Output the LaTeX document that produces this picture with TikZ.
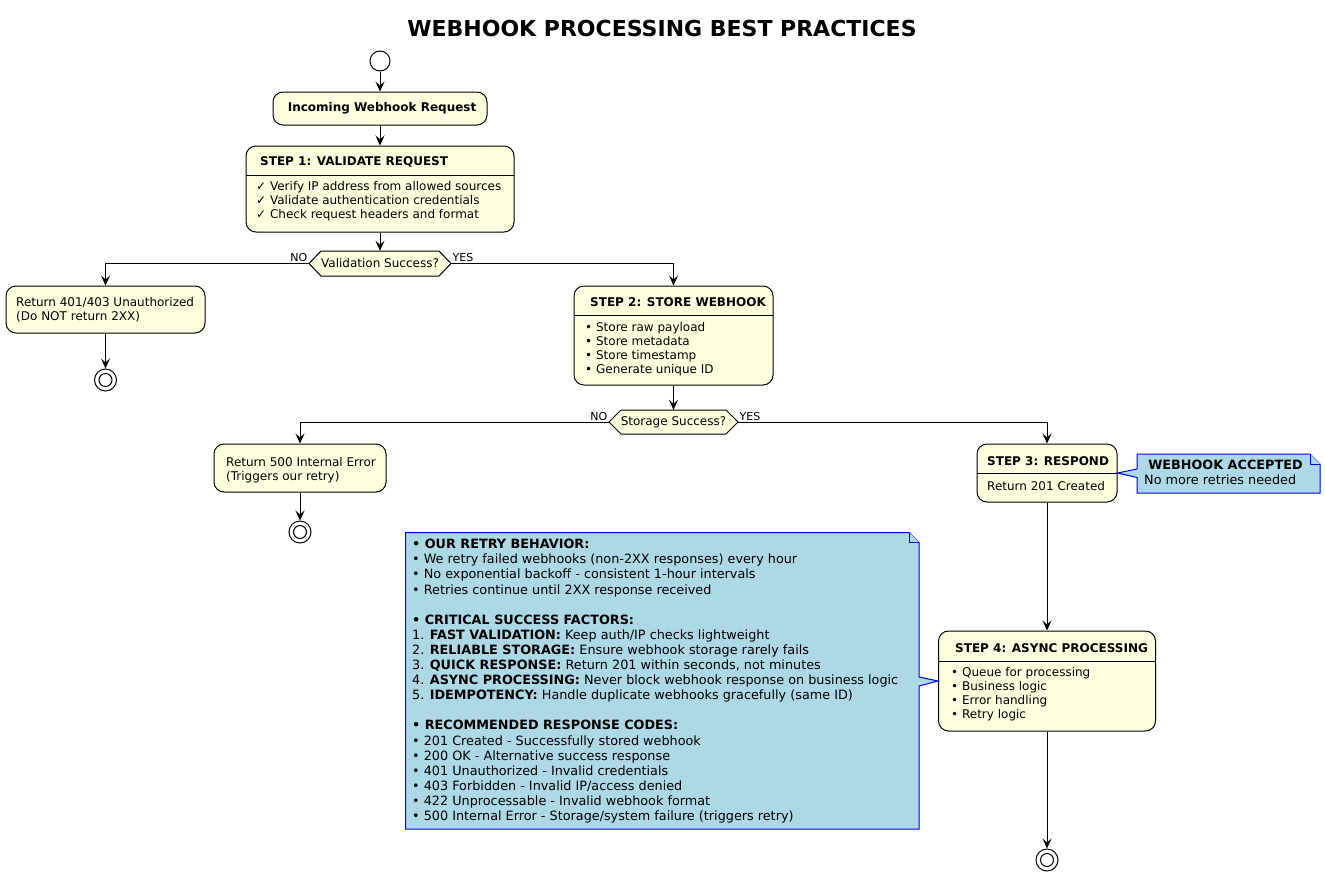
\documentclass[tikz,border=0pt]{standalone}
\usepackage{fontspec}
\setmainfont{DejaVu Sans}
\usetikzlibrary{arrows.meta}
\definecolor{actfill}{RGB}{255,255,224}
\definecolor{notefill}{RGB}{173,216,230}
\newcommand{\actsize}{\fontsize{12}{14}\selectfont}
\newcommand{\notesize}{\fontsize{12.8}{15.1}\selectfont}
\tikzset{
    actbox/.style={draw, fill=actfill, rounded corners=10pt, line width=1pt, inner sep=0pt},
    hexbox/.style={draw, fill=actfill, line width=1pt},
    txt/.style={anchor=north west, align=left, inner sep=0pt, font=\actsize},
    head/.style={anchor=west, inner sep=0pt, font=\actsize\bfseries},
    lbl/.style={inner sep=1pt, font=\fontsize{11}{13}\selectfont},
    flow/.style={line width=1pt, -{Stealth[length=10pt, width=9pt, inset=4pt]}},
    notebox/.style={draw=blue, fill=notefill, line width=1pt},
    endpt/.style={circle, draw, fill=white, line width=1pt, minimum size=22pt, inner sep=0pt}
}

\begin{document}
\begin{tikzpicture}[x=1pt,y=-1pt]
    \useasboundingbox (0,0) rectangle (1325,876);

    \node[font=\fontsize{22}{26}\selectfont\bfseries] (title) at (662,28) {WEBHOOK PROCESSING BEST PRACTICES};

    % main column
    \node[circle, draw, fill=white, line width=1pt, minimum size=20pt, inner sep=0pt] (start) at (380,61) {};
    \node[actbox, minimum width=214, minimum height=33, font=\actsize\bfseries] (inc) at (380,108.5) {\ Incoming Webhook Request};

    \node[actbox, minimum width=268, minimum height=86] (s1) at (380,189) {};
    \draw[line width=1pt] (246,175) -- (514,175);
    \node[head] (s1h) at (260,162) {STEP 1: VALIDATE REQUEST};
    \node[txt] (s1b) at (256,181.2) {✓ Verify IP address from allowed sources\\✓ Validate authentication credentials\\✓ Check request headers and format};

    \filldraw[hexbox] (309,263.5) -- (321,251) -- (439,251) -- (451,263.5) -- (439,276) -- (321,276) -- cycle;
    \node[minimum width=142, minimum height=25, inner sep=0pt, font=\actsize] (val) at (380,263.5) {Validation Success?};

    \node[actbox, minimum width=199, minimum height=47] (r401) at (105.5,309.5) {};
    \node[txt] (r401t) at (16,297.2) {Return 401/403 Unauthorized\\(Do NOT return 2XX)};
    \node[endpt] (e1) at (105.5,380) {};
    \draw[line width=1pt] (e1.center) circle (6.5pt);

    \node[actbox, minimum width=199, minimum height=99] (s2) at (673.5,335.5) {};
    \draw[line width=1pt] (574,315) -- (773,315);
    \node[head] (s2h) at (590,302) {STEP 2: STORE WEBHOOK};
    \node[txt] (s2b) at (585,322.2) {• Store raw payload\\• Store metadata\\• Store timestamp\\• Generate unique ID};

    \filldraw[hexbox] (609,422) -- (621,410) -- (726,410) -- (738,422) -- (726,434) -- (621,434) -- cycle;
    \node[minimum width=129, minimum height=24, inner sep=0pt, font=\actsize] (sto) at (673.5,422) {Storage Success?};

    \node[actbox, minimum width=172, minimum height=48] (r500) at (300,468) {};
    \node[txt] (r500t) at (226,457.2) {Return 500 Internal Error\\(Triggers our retry)};
    \node[endpt] (e2) at (300,532) {};
    \draw[line width=1pt] (e2.center) circle (6.5pt);

    \node[actbox, minimum width=140, minimum height=58] (s3) at (1047,473) {};
    \draw[line width=1pt] (977,473) -- (1117,473);
    \node[head] (s3h) at (987,461) {STEP 3: RESPOND};
    \node[txt] (s3b) at (987,481.2) {Return 201 Created};

    \node[actbox, minimum width=217, minimum height=100] (s4) at (1047,681) {};
    \draw[line width=1pt] (938.5,661) -- (1155.5,661);
    \node[head] (s4h) at (955,648) {STEP 4: ASYNC PROCESSING};
    \node[txt] (s4b) at (951,667.2) {• Queue for processing\\• Business logic\\• Error handling\\• Retry logic};

    \node[endpt] (e3) at (1047,860) {};
    \draw[line width=1pt] (e3.center) circle (6.5pt);

    % connectors
    \draw[flow] (start) -- (inc);
    \draw[flow] (inc) -- (s1);
    \draw[flow] (s1) -- (val);
    \draw[flow] (val.west) node[lbl, above left] {NO} -| (r401.north);
    \draw[flow] (val.east) node[lbl, above right] {YES} -| (s2.north);
    \draw[flow] (r401) -- (e1);
    \draw[flow] (s2) -- (sto);
    \draw[flow] (sto.west) node[lbl, above left] {NO} -| (r500.north);
    \draw[flow] (sto.east) node[lbl, above right] {YES} -| (s3.north);
    \draw[flow] (r500) -- (e2);
    \draw[flow] (s3) -- (s4);
    \draw[flow] (s4) -- (e3);

    % notes
    \filldraw[notebox] (1137,454) -- (1310,454) -- (1320,464) -- (1320,493) -- (1137,493) -- (1137,477.5) -- (s3.east) -- (1137,469) -- cycle;
    \draw[notebox] (1310,454) -- (1310,464) -- (1320,464);
    \node[anchor=north west, align=left, inner sep=0pt, font=\notesize] (acc) at (1144,459.8) {\ \textbf{WEBHOOK ACCEPTED}\\No more retries needed};

    \filldraw[notebox] (405.5,532.5) -- (909,532.5) -- (919,542.5) -- (919,677) -- (s4.west) -- (919,686) -- (919,829) -- (405.5,829) -- cycle;
    \draw[notebox] (909,532.5) -- (909,542.5) -- (919,542.5);
    \node[anchor=north west, align=left, inner sep=0pt, font=\notesize] (retry) at (412,539) {%
        \textbf{•\ OUR RETRY BEHAVIOR:}\\
        • We retry failed webhooks (non-2XX responses) every hour\\
        • No exponential backoff - consistent 1-hour intervals\\
        • Retries continue until 2XX response received\\[15.1pt]
        \textbf{•\ CRITICAL SUCCESS FACTORS:}\\
        1. \textbf{FAST VALIDATION:} Keep auth/IP checks lightweight\\
        2. \textbf{RELIABLE STORAGE:} Ensure webhook storage rarely fails\\
        3. \textbf{QUICK RESPONSE:} Return 201 within seconds, not minutes\\
        4. \textbf{ASYNC PROCESSING:} Never block webhook response on business logic\\
        5. \textbf{IDEMPOTENCY:} Handle duplicate webhooks gracefully (same ID)\\[15.1pt]
        \textbf{•\ RECOMMENDED RESPONSE CODES:}\\
        • 201 Created - Successfully stored webhook\\
        • 200 OK - Alternative success response\\
        • 401 Unauthorized - Invalid credentials\\
        • 403 Forbidden - Invalid IP/access denied\\
        • 422 Unprocessable - Invalid webhook format\\
        • 500 Internal Error - Storage/system failure (triggers retry)};
\end{tikzpicture}
\end{document}
